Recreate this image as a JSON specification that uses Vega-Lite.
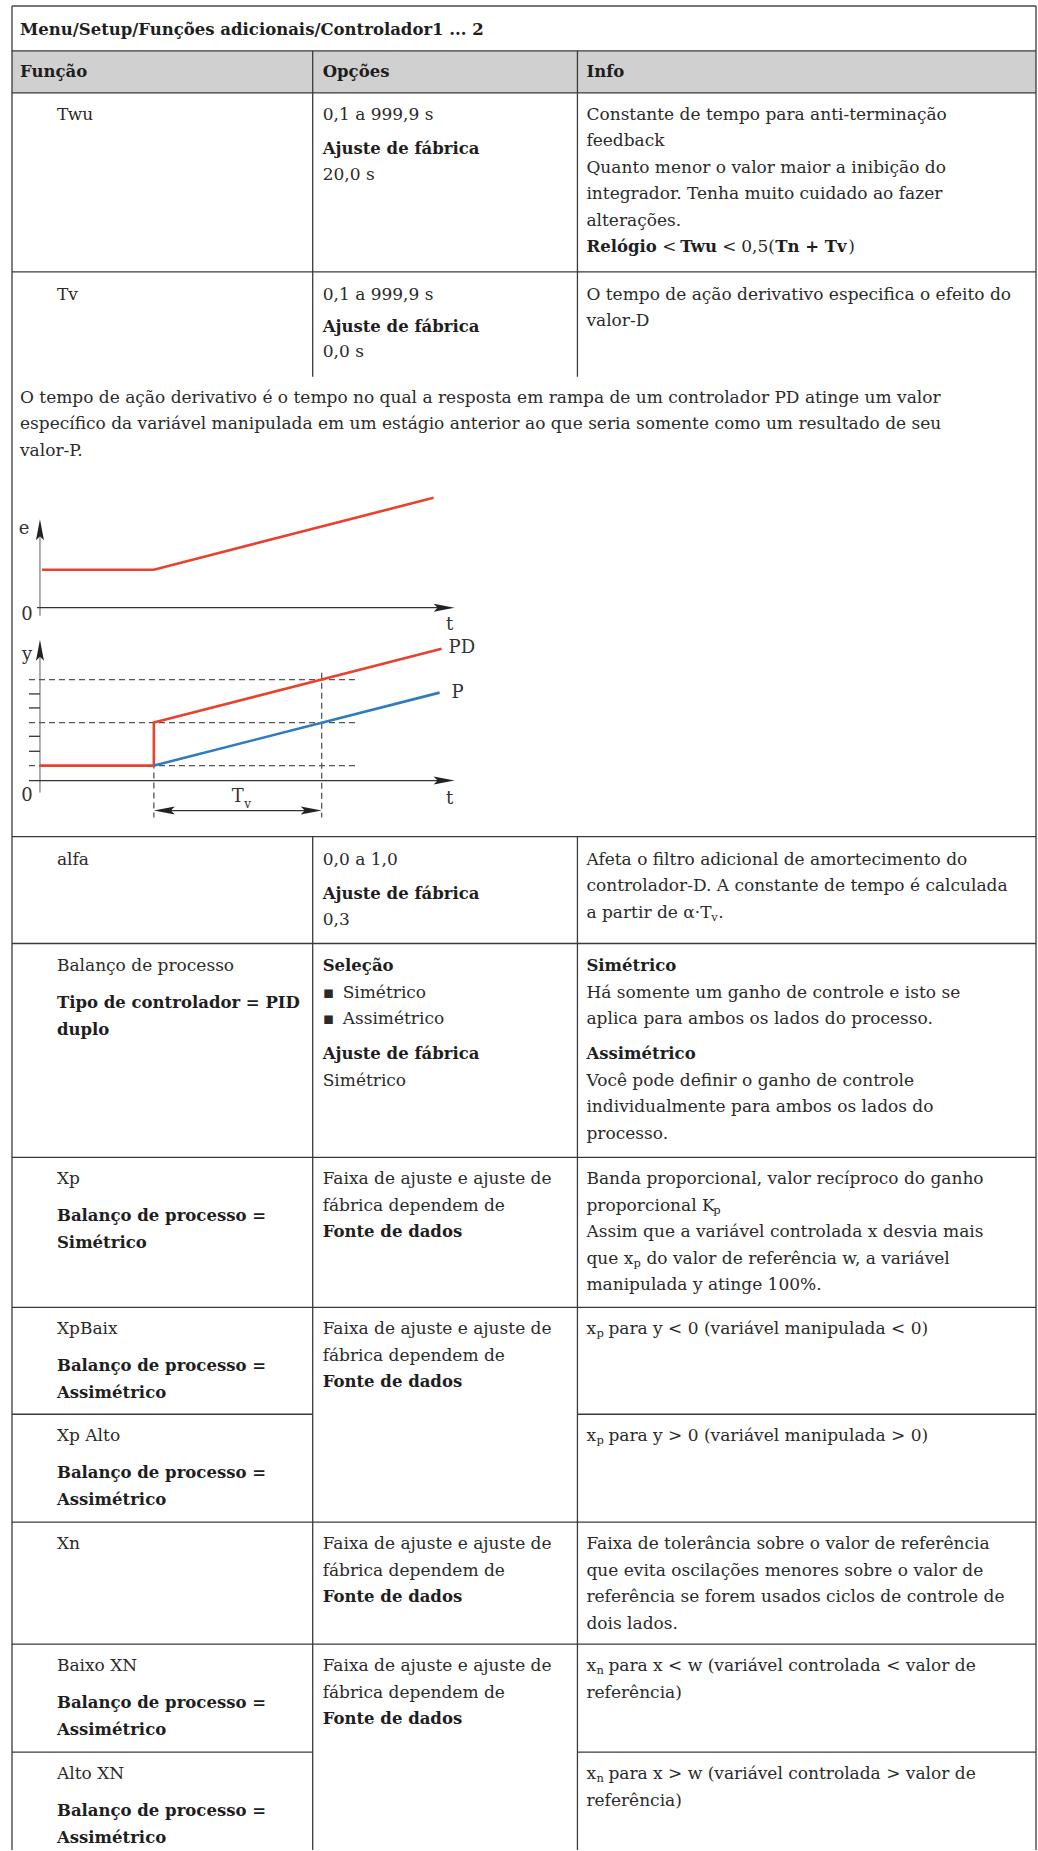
{
  "$schema": "https://vega.github.io/schema/vega-lite/v6.json",
  "width": 1038,
  "height": 1851,
  "padding": 0,
  "autosize": {"type": "fit", "contains": "padding"},
  "background": "white",
  "config": {"view": {"stroke": null}},
  "datasets": {
    "band": [{"x": 12, "y": 51, "x2": 1037, "y2": 93}],
    "topline": [{"x": 12, "y": 6, "x2": 1037, "y2": 6}],
    "grid": [
      {"x": 12, "y": 51, "x2": 1037, "y2": 51},
      {"x": 12, "y": 93, "x2": 1037, "y2": 93},
      {"x": 12, "y": 272, "x2": 1037, "y2": 272},
      {"x": 12, "y": 837, "x2": 1037, "y2": 837},
      {"x": 12, "y": 944, "x2": 1037, "y2": 944},
      {"x": 12, "y": 1158, "x2": 1037, "y2": 1158},
      {"x": 12, "y": 1308, "x2": 1037, "y2": 1308},
      {"x": 12, "y": 1415, "x2": 313, "y2": 1415},
      {"x": 578, "y": 1415, "x2": 1037, "y2": 1415},
      {"x": 12, "y": 1523, "x2": 1037, "y2": 1523},
      {"x": 12, "y": 1645, "x2": 1037, "y2": 1645},
      {"x": 12, "y": 1753, "x2": 313, "y2": 1753},
      {"x": 578, "y": 1753, "x2": 1037, "y2": 1753},
      {"x": 12, "y": 6, "x2": 12, "y2": 1851},
      {"x": 1037, "y": 6, "x2": 1037, "y2": 1851},
      {"x": 313, "y": 51, "x2": 313, "y2": 377},
      {"x": 578, "y": 51, "x2": 578, "y2": 377},
      {"x": 313, "y": 837, "x2": 313, "y2": 1851},
      {"x": 578, "y": 837, "x2": 578, "y2": 1851}
    ],
    "axisV": [
      {"x": 40, "y": 525, "x2": 40, "y2": 616},
      {"x": 40, "y": 646, "x2": 40, "y2": 793}
    ],
    "axisH": [
      {"x": 37, "y": 608, "x2": 440, "y2": 608},
      {"x": 29, "y": 781, "x2": 440, "y2": 781},
      {"x": 29, "y": 694.3, "x2": 40, "y2": 694.3},
      {"x": 29, "y": 708.3, "x2": 40, "y2": 708.3},
      {"x": 29, "y": 736.7, "x2": 40, "y2": 736.7},
      {"x": 29, "y": 751.7, "x2": 40, "y2": 751.7},
      {"x": 162, "y": 811, "x2": 314, "y2": 811}
    ],
    "dashed": [
      {"x": 29, "y": 680, "x2": 357, "y2": 680},
      {"x": 29, "y": 723, "x2": 357, "y2": 723},
      {"x": 29, "y": 766, "x2": 357, "y2": 766},
      {"x": 154, "y": 723, "x2": 154, "y2": 818},
      {"x": 322, "y": 673, "x2": 322, "y2": 818}
    ],
    "curves": [
      {"series": "e", "o": 1, "x": 42, "y": 570},
      {"series": "e", "o": 2, "x": 154, "y": 570},
      {"series": "e", "o": 3, "x": 434, "y": 498},
      {"series": "PD", "o": 1, "x": 40, "y": 766},
      {"series": "PD", "o": 2, "x": 154, "y": 766},
      {"series": "PD", "o": 3, "x": 154, "y": 723},
      {"series": "PD", "o": 4, "x": 442, "y": 649},
      {"series": "P", "o": 1, "x": 154, "y": 766},
      {"series": "P", "o": 2, "x": 440, "y": 693}
    ],
    "arrows": [
      {"dir": "up", "x": 40, "y": 530},
      {"dir": "right", "x": 444.5, "y": 608},
      {"dir": "up", "x": 40, "y": 650.5},
      {"dir": "right", "x": 444.5, "y": 781},
      {"dir": "left", "x": 164.5, "y": 811},
      {"dir": "right", "x": 311.5, "y": 811}
    ],
    "diagText": [
      {"x": 24, "y": 529, "t": "e"},
      {"x": 27, "y": 615, "t": "0"},
      {"x": 450, "y": 625, "t": "t"},
      {"x": 27, "y": 655, "t": "y"},
      {"x": 27, "y": 796, "t": "0"},
      {"x": 450, "y": 799, "t": "t"},
      {"x": 238, "y": 797, "t": "T"}
    ],
    "diagLeft": [
      {"x": 449, "y": 648, "t": "PD"},
      {"x": 452, "y": 693, "t": "P"}
    ],
    "diagSub": [{"x": 248, "y": 804, "t": "v"}],
    "bold": [
      {"x": 20, "y": 30, "t": "Menu/Setup/Funções adicionais/Controlador1 ... 2"},
      {"x": 20, "y": 72, "t": "Função"},
      {"x": 323, "y": 72, "t": "Opções"},
      {"x": 587, "y": 72, "t": "Info"},
      {"x": 323, "y": 149, "t": "Ajuste de fábrica"},
      {"x": 587, "y": 247.5, "t": "Relógio"},
      {"x": 681, "y": 247.5, "t": "Twu"},
      {"x": 776, "y": 247.5, "t": "Tn + Tv"},
      {"x": 323, "y": 327, "t": "Ajuste de fábrica"},
      {"x": 323, "y": 894, "t": "Ajuste de fábrica"},
      {"x": 57, "y": 1004, "t": "Tipo de controlador = PID"},
      {"x": 57, "y": 1030.5, "t": "duplo"},
      {"x": 323, "y": 967, "t": "Seleção"},
      {"x": 323, "y": 1055, "t": "Ajuste de fábrica"},
      {"x": 587, "y": 967, "t": "Simétrico"},
      {"x": 587, "y": 1055, "t": "Assimétrico"},
      {"x": 57, "y": 1217, "t": "Balanço de processo ="},
      {"x": 57, "y": 1243.5, "t": "Simétrico"},
      {"x": 323, "y": 1233, "t": "Fonte de dados"},
      {"x": 57, "y": 1367, "t": "Balanço de processo ="},
      {"x": 57, "y": 1393.5, "t": "Assimétrico"},
      {"x": 323, "y": 1383, "t": "Fonte de dados"},
      {"x": 57, "y": 1474, "t": "Balanço de processo ="},
      {"x": 57, "y": 1500.5, "t": "Assimétrico"},
      {"x": 323, "y": 1598, "t": "Fonte de dados"},
      {"x": 57, "y": 1704, "t": "Balanço de processo ="},
      {"x": 57, "y": 1730.5, "t": "Assimétrico"},
      {"x": 323, "y": 1720, "t": "Fonte de dados"},
      {"x": 57, "y": 1812, "t": "Balanço de processo ="},
      {"x": 57, "y": 1838.5, "t": "Assimétrico"}
    ],
    "reg": [
      {"x": 57, "y": 115, "t": "Twu"},
      {"x": 323, "y": 115, "t": "0,1 a 999,9 s"},
      {"x": 323, "y": 175.5, "t": "20,0 s"},
      {"x": 587, "y": 115, "t": "Constante de tempo para anti-terminação"},
      {"x": 587, "y": 141.5, "t": "feedback"},
      {"x": 587, "y": 168, "t": "Quanto menor o valor maior a inibição do"},
      {"x": 587, "y": 194.5, "t": "integrador. Tenha muito cuidado ao fazer"},
      {"x": 587, "y": 221, "t": "alterações."},
      {"x": 663, "y": 247.5, "t": "<"},
      {"x": 723, "y": 247.5, "t": "<"},
      {"x": 742, "y": 247.5, "t": "0,5("},
      {"x": 849, "y": 247.5, "t": ")"},
      {"x": 57, "y": 295, "t": "Tv"},
      {"x": 323, "y": 295, "t": "0,1 a 999,9 s"},
      {"x": 323, "y": 352, "t": "0,0 s"},
      {"x": 587, "y": 295, "t": "O tempo de ação derivativo especifica o efeito do"},
      {"x": 587, "y": 321.5, "t": "valor-D"},
      {"x": 20, "y": 398, "t": "O tempo de ação derivativo é o tempo no qual a resposta em rampa de um controlador PD atinge um valor"},
      {"x": 20, "y": 424.5, "t": "específico da variável manipulada em um estágio anterior ao que seria somente como um resultado de seu"},
      {"x": 20, "y": 451, "t": "valor-P."},
      {"x": 57, "y": 860, "t": "alfa"},
      {"x": 323, "y": 860, "t": "0,0 a 1,0"},
      {"x": 323, "y": 920.5, "t": "0,3"},
      {"x": 587, "y": 860, "t": "Afeta o filtro adicional de amortecimento do"},
      {"x": 587, "y": 886.5, "t": "controlador-D. A constante de tempo é calculada"},
      {"x": 587, "y": 913, "t": "a partir de α·T"},
      {"x": 719, "y": 913, "t": "."},
      {"x": 57, "y": 967, "t": "Balanço de processo"},
      {"x": 323, "y": 993.5, "t": "▪"},
      {"x": 343, "y": 993.5, "t": "Simétrico"},
      {"x": 323, "y": 1020, "t": "▪"},
      {"x": 343, "y": 1020, "t": "Assimétrico"},
      {"x": 323, "y": 1081.5, "t": "Simétrico"},
      {"x": 587, "y": 993.5, "t": "Há somente um ganho de controle e isto se"},
      {"x": 587, "y": 1020, "t": "aplica para ambos os lados do processo."},
      {"x": 587, "y": 1081.5, "t": "Você pode definir o ganho de controle"},
      {"x": 587, "y": 1108, "t": "individualmente para ambos os lados do"},
      {"x": 587, "y": 1134.5, "t": "processo."},
      {"x": 57, "y": 1180, "t": "Xp"},
      {"x": 323, "y": 1180, "t": "Faixa de ajuste e ajuste de"},
      {"x": 323, "y": 1206.5, "t": "fábrica dependem de"},
      {"x": 587, "y": 1180, "t": "Banda proporcional, valor recíproco do ganho"},
      {"x": 587, "y": 1206.5, "t": "proporcional K"},
      {"x": 587, "y": 1233, "t": "Assim que a variável controlada x desvia mais"},
      {"x": 587, "y": 1259.5, "t": "que x"},
      {"x": 647, "y": 1259.5, "t": "do valor de referência w, a variável"},
      {"x": 587, "y": 1286, "t": "manipulada y atinge 100%."},
      {"x": 57, "y": 1330, "t": "XpBaix"},
      {"x": 323, "y": 1330, "t": "Faixa de ajuste e ajuste de"},
      {"x": 323, "y": 1356.5, "t": "fábrica dependem de"},
      {"x": 587, "y": 1330, "t": "x"},
      {"x": 609, "y": 1330, "t": "para y < 0 (variável manipulada < 0)"},
      {"x": 57, "y": 1437, "t": "Xp Alto"},
      {"x": 587, "y": 1437, "t": "x"},
      {"x": 609, "y": 1437, "t": "para y > 0 (variável manipulada > 0)"},
      {"x": 57, "y": 1545, "t": "Xn"},
      {"x": 323, "y": 1545, "t": "Faixa de ajuste e ajuste de"},
      {"x": 323, "y": 1571.5, "t": "fábrica dependem de"},
      {"x": 587, "y": 1545, "t": "Faixa de tolerância sobre o valor de referência"},
      {"x": 587, "y": 1571.5, "t": "que evita oscilações menores sobre o valor de"},
      {"x": 587, "y": 1598, "t": "referência se forem usados ciclos de controle de"},
      {"x": 587, "y": 1624.5, "t": "dois lados."},
      {"x": 57, "y": 1667, "t": "Baixo XN"},
      {"x": 323, "y": 1667, "t": "Faixa de ajuste e ajuste de"},
      {"x": 323, "y": 1693.5, "t": "fábrica dependem de"},
      {"x": 587, "y": 1667, "t": "x"},
      {"x": 609, "y": 1667, "t": "para x < w (variável controlada < valor de"},
      {"x": 587, "y": 1693.5, "t": "referência)"},
      {"x": 57, "y": 1775, "t": "Alto XN"},
      {"x": 587, "y": 1775, "t": "x"},
      {"x": 609, "y": 1775, "t": "para x > w (variável controlada > valor de"},
      {"x": 587, "y": 1801.5, "t": "referência)"}
    ],
    "sub": [
      {"x": 712, "y": 918, "t": "v"},
      {"x": 714, "y": 1211.5, "t": "p"},
      {"x": 634, "y": 1264.5, "t": "p"},
      {"x": 597, "y": 1335, "t": "p"},
      {"x": 597, "y": 1442, "t": "p"},
      {"x": 597, "y": 1672, "t": "n"},
      {"x": 597, "y": 1780, "t": "n"}
    ]
  },
  "encoding": {
    "x": {"field": "x", "type": "quantitative", "scale": {"domain": [0, 1038], "nice": false, "zero": false}, "axis": null},
    "y": {"field": "y", "type": "quantitative", "scale": {"domain": [0, 1851], "nice": false, "zero": false, "reverse": true}, "axis": null}
  },
  "layer": [
    {
      "data": {"name": "band"},
      "mark": {"type": "rect", "color": "#d0d0d0"},
      "encoding": {"x2": {"field": "x2"}, "y2": {"field": "y2"}}
    },
    {
      "data": {"name": "topline"},
      "mark": {"type": "rule", "color": "#777777", "strokeWidth": 2.2},
      "encoding": {"x2": {"field": "x2"}, "y2": {"field": "y2"}}
    },
    {
      "data": {"name": "grid"},
      "mark": {"type": "rule", "color": "#3a3a3a", "strokeWidth": 1.3},
      "encoding": {"x2": {"field": "x2"}, "y2": {"field": "y2"}}
    },
    {
      "data": {"name": "axisV"},
      "mark": {"type": "rule", "color": "#9a9a9a", "strokeWidth": 1.6},
      "encoding": {"x2": {"field": "x2"}, "y2": {"field": "y2"}}
    },
    {
      "data": {"name": "axisH"},
      "mark": {"type": "rule", "color": "#333333", "strokeWidth": 1.3},
      "encoding": {"x2": {"field": "x2"}, "y2": {"field": "y2"}}
    },
    {
      "data": {"name": "dashed"},
      "mark": {"type": "rule", "color": "#555555", "strokeWidth": 1.3, "strokeDash": [6, 4]},
      "encoding": {"x2": {"field": "x2"}, "y2": {"field": "y2"}}
    },
    {
      "data": {"name": "curves"},
      "mark": {"type": "line", "strokeWidth": 2.6, "strokeJoin": "miter"},
      "encoding": {
        "color": {"field": "series", "type": "nominal", "scale": {"domain": ["e", "PD", "P"], "range": ["#e8412c", "#e8412c", "#2e7bbf"]}, "legend": null},
        "detail": {"field": "series"},
        "order": {"field": "o", "type": "quantitative"}
      }
    },
    {
      "data": {"name": "arrows"},
      "mark": {"type": "point", "filled": true, "size": 440, "color": "#222222", "opacity": 1},
      "encoding": {
        "shape": {"field": "dir", "type": "nominal", "scale": {"domain": ["up", "right", "left"], "range": ["M0,-1L0.38,1L0,0.62L-0.38,1Z", "M1,0L-1,0.38L-0.62,0L-1,-0.38Z", "M-1,0L1,0.38L0.62,0L1,-0.38Z"]}, "legend": null}
      }
    },
    {
      "data": {"name": "diagText"},
      "mark": {"type": "text", "font": "DejaVu Serif", "fontSize": 18, "color": "#333333", "align": "center", "baseline": "middle"},
      "encoding": {"text": {"field": "t"}}
    },
    {
      "data": {"name": "diagLeft"},
      "mark": {"type": "text", "font": "DejaVu Serif", "fontSize": 18, "color": "#333333", "align": "left", "baseline": "middle"},
      "encoding": {"text": {"field": "t"}}
    },
    {
      "data": {"name": "diagSub"},
      "mark": {"type": "text", "font": "DejaVu Serif", "fontSize": 12, "color": "#333333", "align": "center", "baseline": "middle"},
      "encoding": {"text": {"field": "t"}}
    },
    {
      "data": {"name": "bold"},
      "mark": {"type": "text", "font": "DejaVu Serif", "fontSize": 16.5, "fontWeight": "bold", "color": "#1e1e1e", "align": "left", "baseline": "middle"},
      "encoding": {"text": {"field": "t"}}
    },
    {
      "data": {"name": "reg"},
      "mark": {"type": "text", "font": "DejaVu Serif", "fontSize": 17, "color": "#2a2a2a", "align": "left", "baseline": "middle"},
      "encoding": {"text": {"field": "t"}}
    },
    {
      "data": {"name": "sub"},
      "mark": {"type": "text", "font": "DejaVu Serif", "fontSize": 11.5, "color": "#2a2a2a", "align": "left", "baseline": "middle"},
      "encoding": {"text": {"field": "t"}}
    }
  ]
}
